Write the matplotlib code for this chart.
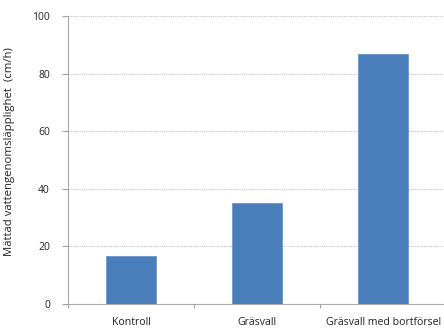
import matplotlib.pyplot as plt
import numpy as np

# Data
kategorier = ["Kontroll", "Gräsvall", "Gräsvall med bortförsel"]
varden = [16.8, 35.2, 86.8]
yticks = [0, 20, 40, 60, 80, 100]

plt.rcParams['font.family'] = ['Open Sans', 'DejaVu Sans']

fig = plt.figure(figsize=(4.44, 3.28), dpi=100)
ax = fig.add_axes([0.153, 0.073, 0.852, 0.878])

x = np.arange(len(kategorier))
ax.bar(x, varden, width=0.4, color='#4a7ebb', edgecolor='#6d96c8', linewidth=0.6, zorder=3)

ax.set_xlim(-0.5, 2.5)
ax.set_ylim(0, 100)
ax.set_yticks(yticks)
ax.set_yticklabels([str(v) for v in yticks], fontsize=7.5, color='#222222')
ax.yaxis.grid(True, linestyle=(0, (1, 1)), color='#c4c4c4', linewidth=0.8, zorder=0)

# category labels in the middle, tick marks between categories
ax.set_xticks(x)
ax.set_xticklabels(kategorier, fontsize=7.6, color='#222222')
ax.tick_params(axis='x', length=0, pad=9)
ax.set_xticks([-0.5, 0.5, 1.5, 2.5], minor=True)
ax.tick_params(axis='x', which='minor', length=3, color='#a0a0a0', width=0.8)
ax.tick_params(axis='y', length=4, color='#a0a0a0', width=0.8, pad=9)

for side in ['top', 'right']:
    ax.spines[side].set_visible(False)
for side in ['left', 'bottom']:
    ax.spines[side].set_color('#a8a8a8')
    ax.spines[side].set_linewidth(0.8)

ax.set_ylabel("Mättad vattengenomsläpplighet  (cm/h)", fontsize=8.2, color='#222222')
ax.yaxis.set_label_coords(-0.14, 0.53)

fig.savefig("out.png", dpi=100)
